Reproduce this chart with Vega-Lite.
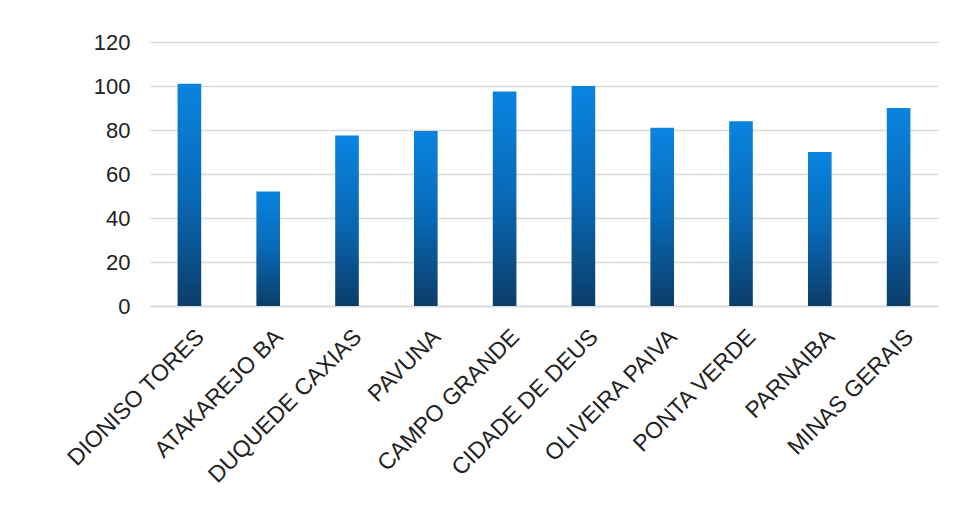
{
  "$schema": "https://vega.github.io/schema/vega-lite/v6.json",
  "width": 788,
  "height": 264,
  "autosize": {"type": "none"},
  "padding": {"left": 150, "top": 42, "right": 16, "bottom": 205},
  "background": "white",
  "data": {
    "values": [
      {"local": "DIONISO TORES", "valor": 101},
      {"local": "ATAKAREJO BA", "valor": 52},
      {"local": "DUQUEDE CAXIAS", "valor": 77.5},
      {"local": "PAVUNA", "valor": 79.5},
      {"local": "CAMPO GRANDE", "valor": 97.5},
      {"local": "CIDADE DE DEUS", "valor": 100},
      {"local": "OLIVEIRA PAIVA", "valor": 81},
      {"local": "PONTA VERDE", "valor": 84},
      {"local": "PARNAIBA", "valor": 70},
      {"local": "MINAS GERAIS", "valor": 90}
    ]
  },
  "mark": {
    "type": "bar",
    "color": {
      "gradient": "linear",
      "x1": 0, "y1": 0, "x2": 0, "y2": 1,
      "stops": [
        {"offset": 0, "color": "#0a84e0"},
        {"offset": 0.5, "color": "#0869b6"},
        {"offset": 1, "color": "#0b3d69"}
      ]
    }
  },
  "encoding": {
    "x": {
      "field": "local",
      "type": "nominal",
      "sort": null,
      "title": null,
      "scale": {"paddingInner": 0.7, "paddingOuter": 0.35},
      "axis": {
        "labelAngle": -45,
        "labelAlign": "right",
        "labelBaseline": "middle",
        "labelPadding": 27,
        "labelOffset": 11,
        "ticks": false,
        "domainColor": "#d9d9d9",
        "domainWidth": 1.5,
        "labelFont": "Liberation Sans",
        "labelFontSize": 23,
        "labelColor": "#222222",
        "labelLimit": 0
      }
    },
    "y": {
      "field": "valor",
      "type": "quantitative",
      "title": null,
      "scale": {"domain": [0, 120], "nice": false},
      "axis": {
        "values": [0, 20, 40, 60, 80, 100, 120],
        "domain": false,
        "ticks": false,
        "gridColor": "#d9d9d9",
        "gridWidth": 1.5,
        "labelPadding": 20,
        "labelFont": "Liberation Sans",
        "labelFontSize": 22,
        "labelColor": "#222222"
      }
    }
  },
  "config": {"view": {"stroke": null}}
}
